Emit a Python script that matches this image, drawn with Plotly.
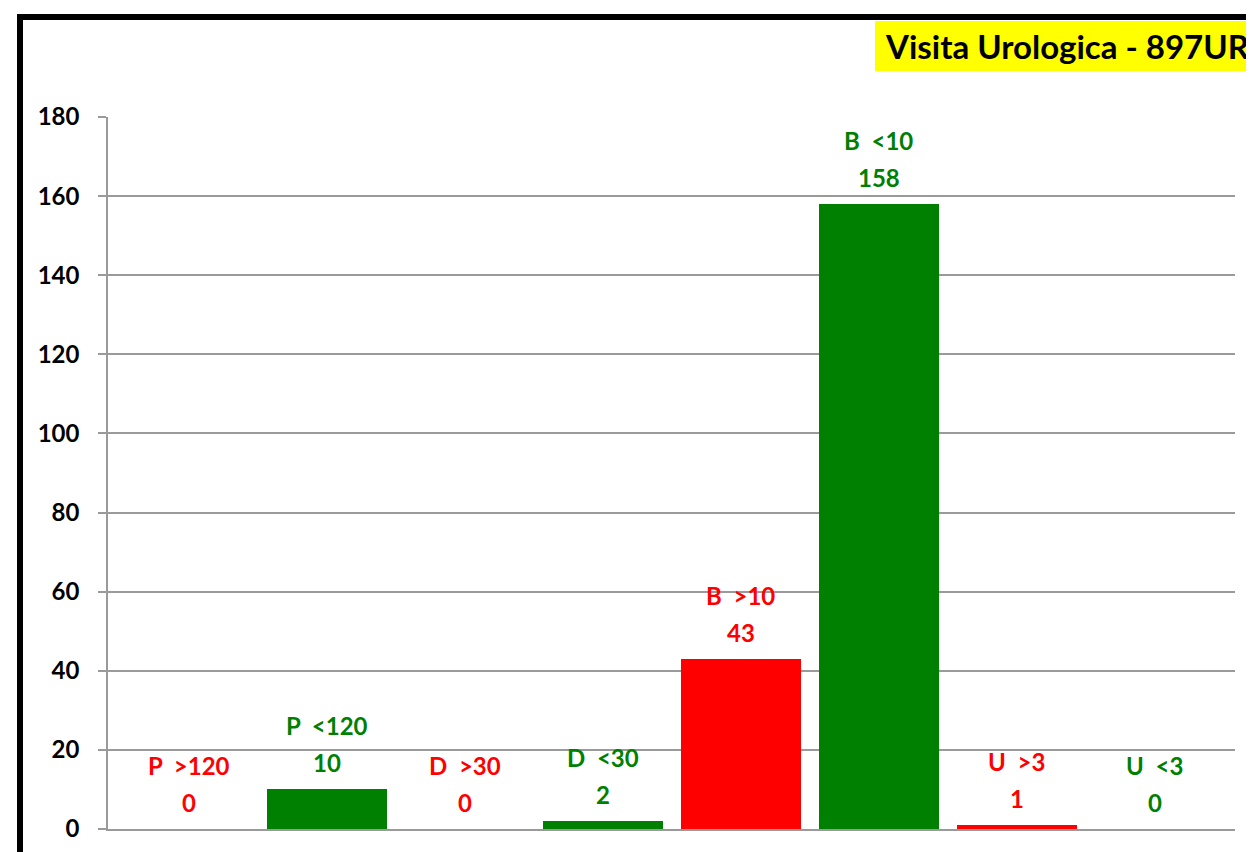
import plotly.graph_objects as go

# Visita Urologica - 897UR: counts per priority class, over/under the time limit
codes = ["P", "P", "D", "D", "B", "B", "U", "U"]
limits = [">120", "<120", ">30", "<30", ">10", "<10", ">3", "<3"]
counts = [0, 10, 0, 2, 43, 158, 1, 0]
RED = "#FF0000"
GREEN = "#008000"
bar_colors = [RED, GREEN] * 4
y_ticks = [0, 20, 40, 60, 80, 100, 120, 140, 160, 180]

FONT = "Lato, 'Open Sans', Arial, sans-serif"
GRID = "#9a9a9a"

# page body has an 8px margin, so the figure is laid out in shifted pixels
W, H = 1254, 852
PL, PR, PT, PB = 100, 1227, 109, 821
PW, PH = PR - PL, PB - PT


def px_x(x):
    return (x - PL) / PW


def px_y(y):
    return (PB - y) / PH


cats = [c + " " + l for c, l in zip(codes, limits)]

fig = go.Figure()
fig.add_trace(
    go.Bar(
        x=cats,
        y=counts,
        marker=dict(color=bar_colors, line=dict(width=0)),
        width=0.87,
        hoverinfo="x+y",
    )
)

# two-line labels over each bar: value, then class name above it
for cat, code, lim, val, col in zip(cats, codes, limits, counts, bar_colors):
    lim_html = lim.replace("<", "&lt;").replace(">", "&gt;")
    lab_font = dict(family=FONT, size=24, color=col, weight="bold")
    fig.add_annotation(
        x=cat, y=val, xref="x", yref="y", text=str(val),
        showarrow=False, yanchor="bottom", yshift=10, font=lab_font,
    )
    fig.add_annotation(
        x=cat, y=val, xref="x", yref="y",
        text=f"{code}\u00a0\u00a0{lim_html}",
        showarrow=False, yanchor="bottom", yshift=47, font=lab_font,
    )

# title box (yellow, running off the right edge)
fig.add_shape(
    type="rect", xref="paper", yref="paper",
    x0=px_x(867), x1=1.1, y0=px_y(63), y1=px_y(13),
    fillcolor="#FFFF00", line=dict(width=0), layer="below",
)
fig.add_annotation(
    x=px_x(875), y=px_y(38), xref="paper", yref="paper",
    xanchor="left", yanchor="middle", showarrow=False,
    text="Visita Urologica - 897UR",
    font=dict(family=FONT, size=33, color="black", weight="bold"),
)

# thick chart frame (only top and left edges visible in the crop)
fig.add_shape(
    type="rect", xref="paper", yref="paper",
    x0=px_x(12), x1=1.2, y0=-0.2, y1=px_y(9),
    line=dict(color="black", width=6), fillcolor="rgba(0,0,0,0)",
)

fig.update_layout(
    width=W,
    height=H,
    margin=dict(l=PL, r=W - PR, t=PT, b=H - PB),
    paper_bgcolor="white",
    plot_bgcolor="white",
    showlegend=False,
    bargap=0,
    font=dict(family=FONT, color="black"),
)
fig.update_xaxes(
    type="category",
    range=[-0.587, 7.58],
    showticklabels=False,
    showgrid=False,
    showline=True,
    linecolor=GRID,
    linewidth=1.5,
    ticks="",
)
fig.update_yaxes(
    range=[0, 180],
    tickvals=y_ticks,
    showgrid=True,
    gridcolor=GRID,
    gridwidth=1.5,
    zeroline=False,
    showline=True,
    linecolor=GRID,
    linewidth=1.5,
    ticks="outside",
    ticklen=8,
    tickcolor=GRID,
    tickwidth=1.5,
    ticklabelstandoff=14,
    tickfont=dict(family=FONT, size=24, color="black", weight="bold"),
)

fig.write_html("out.html")
